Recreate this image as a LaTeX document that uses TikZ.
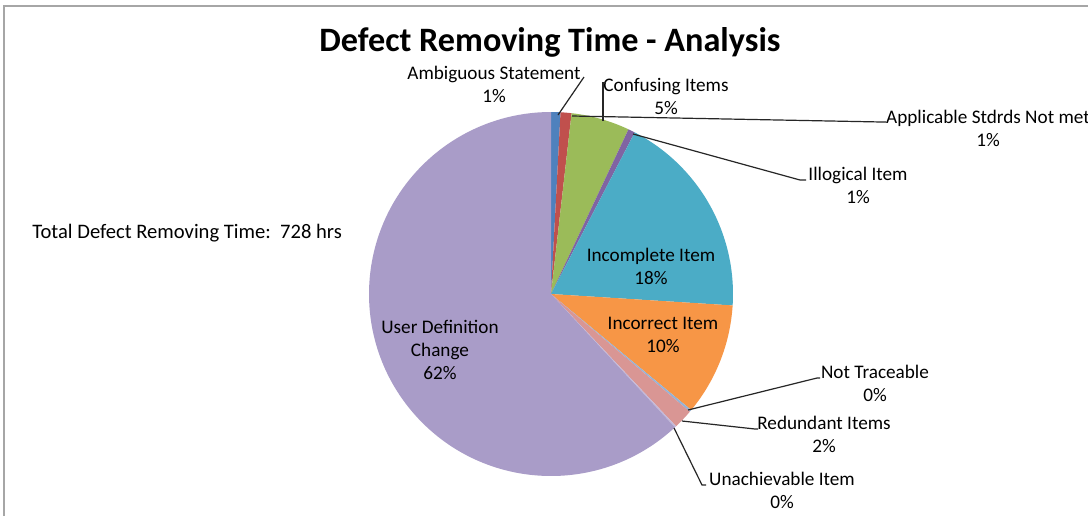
\documentclass[tikz,border=0pt]{standalone}
\usepackage{fontspec}
\setmainfont{Carlito}
\usepackage{tikz}
\usetikzlibrary{calc}
\definecolor{sAmb}{HTML}{4F81BD}
\definecolor{sApp}{HTML}{C0504D}
\definecolor{sConf}{HTML}{9BBB59}
\definecolor{sIll}{HTML}{8064A2}
\definecolor{sIncp}{HTML}{4BACC6}
\definecolor{sIncr}{HTML}{F79646}
\definecolor{sNT}{HTML}{95B3D7}
\definecolor{sRed}{HTML}{D99694}
\definecolor{sUA}{HTML}{C3B9DA}
\definecolor{sUser}{HTML}{A99CC8}
\begin{document}
\begin{tikzpicture}[x=0.5pt,y=-0.5pt,lbl/.style={align=center,inner sep=0pt,font=\fontsize{9.6}{11.5}\selectfont},lead/.style={draw=black!85,line width=0.6pt}]
\useasboundingbox (0,0) rectangle (1088,516);
\fill[white] (0,0) rectangle (1088,516);
\draw[black!35,line width=0.8pt] (4,516) -- (4,6) -- (1088,6);
% title and total
\node (title) at (550,42) {\fontsize{17.1}{20}\selectfont\bfseries Defect Removing Time - Analysis};
\node (total) [anchor=west,inner sep=0pt] at (32,233) {\fontsize{10.3}{12}\selectfont Total Defect Removing Time:\ \ 728 hrs};
% slices, angles clockwise (y points down)
\begin{scope}[shift={(551,294)}]
\coordinate (c) at (0,0);
\foreach \a/\b/\col in {-90/-87/sAmb,-87/-83.5/sApp,-83.5/-64.8/sConf,-64.8/-62.6/sIll,-62.6/3.6/sIncp,3.6/39.6/sIncr,39.6/40.3/sNT,40.3/46.6/sRed,46.6/47.1/sUA,47.1/270/sUser}
\fill[\col] (c) -- (\a:182) arc[start angle=\a,end angle=\b,radius=182] -- cycle;
\end{scope}
% labels inside
\node (lIncp) [lbl] at (651,266) {Incomplete Item\\18\%};
\node (lIncr) [lbl] at (663,335) {Incorrect Item\\10\%};
\node (lUser) [lbl] at (440,350) {User Definition\\Change\\62\%};
% labels outside
\node (lAmb) [lbl] at (494,84) {Ambiguous Statement\\1\%};
\node (lConf) [lbl] at (666,96) {Confusing Items\\5\%};
\node (lApp) [lbl] at (988,128) {Applicable Stdrds Not met\\1\%};
\node (lIll) [lbl] at (858,185) {Illogical Item\\1\%};
\node (lNT) [lbl] at (875,383) {Not Traceable\\0\%};
\node (lRed) [lbl] at (824,434) {Redundant Items\\2\%};
\node (lUA) [lbl] at (782,490) {Unachievable Item\\0\%};
% leader lines
\coordinate (eAmb) at (558,115);  \coordinate (kAmb) at (584,77);
\coordinate (eConf) at (603,121); \coordinate (bConf) at (603,83); \coordinate (kConf) at (606,83);
\coordinate (eApp) at (572,116);  \coordinate (bApp) at (882,122); \coordinate (kApp) at (886,122);
\coordinate (eIll) at (633,134);  \coordinate (bIll) at (800,180); \coordinate (kIll) at (806,180);
\coordinate (eNT) at (688,410);   \coordinate (bNT) at (817,378);  \coordinate (kNT) at (820,378);
\coordinate (eRed) at (682,421);  \coordinate (bRed) at (755,429); \coordinate (kRed) at (758,429);
\coordinate (eUA) at (674,428);   \coordinate (bUA) at (702,485);  \coordinate (kUA) at (706,485);
\draw[lead] (eAmb) -- (kAmb);
\foreach \from/\via/\to in {eConf/bConf/kConf,eApp/bApp/kApp,eIll/bIll/kIll,eNT/bNT/kNT,eRed/bRed/kRed,eUA/bUA/kUA}
\draw[lead] (\from) -- (\via) -- (\to);
\end{tikzpicture}
\end{document}
